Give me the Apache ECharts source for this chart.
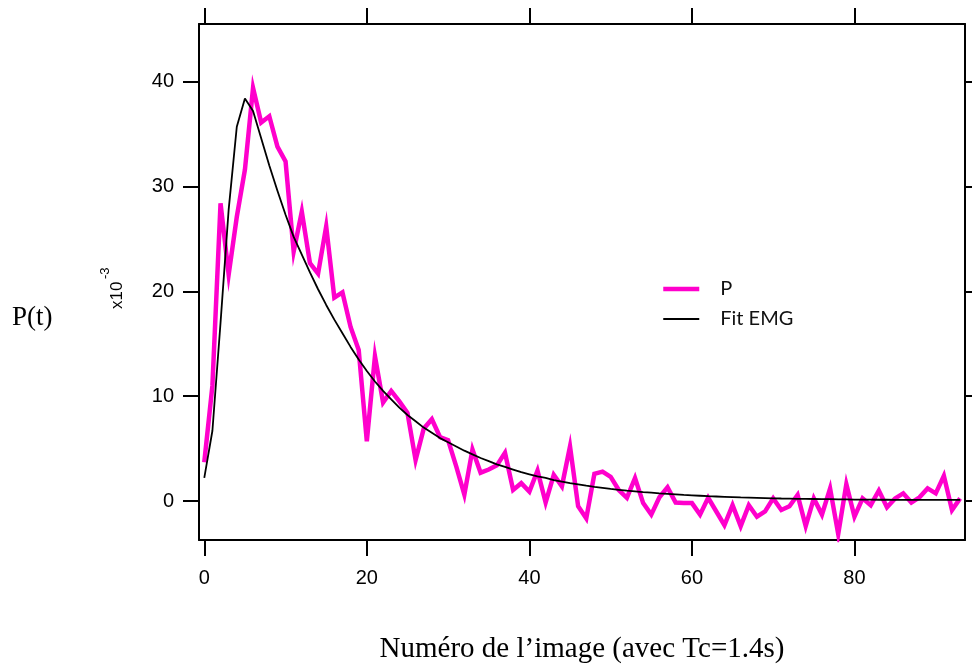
<!DOCTYPE html>
<html>
<head>
<meta charset="utf-8">
<script src="https://cdn.jsdelivr.net/npm/echarts@6/dist/echarts.min.js"></script>
<style>
html,body{margin:0;padding:0;background:#fff;}
#chart{width:972px;height:664px;}
</style>
</head>
<body>
<div id="chart"></div>
<script>
// Measured P(t) per image number (values in x10^-3)
const pValues = [
  3.7, 11, 28.4, 21.6, 27.1, 31.6, 39.4, 36.1, 36.7, 33.8,
  32.4, 23.8, 27.6, 22.7, 21.7, 26.2, 19.4, 19.9, 16.6, 14.4,
  5.7, 13.8, 9.4, 10.5, 9.5, 8.4, 3.9, 6.9, 7.8, 6.1,
  5.8, 3.3, 0.6, 4.9, 2.7, 3.0, 3.4, 4.6, 1.05, 1.7,
  0.9, 2.9, -0.15, 2.5, 1.4, 5.2, -0.5, -1.65, 2.6, 2.8,
  2.3, 1.05, 0.3, 2.2, -0.2, -1.3, 0.35, 1.3, -0.15, -0.2,
  -0.2, -1.3, 0.3, -1.0, -2.3, -0.4, -2.4, -0.4, -1.5, -1.0,
  0.25, -0.86, -0.5, 0.57, -2.4, 0.25, -1.3, 1.2, -3.15, 1.6,
  -1.5, 0.25, -0.4, 1.0, -0.6, 0.25, 0.73, -0.15, 0.35, 1.2,
  0.73, 2.4, -0.86, 0.25
];
// EMG fit (values in x10^-3)
const fitValues = [
  2.2, 6.7, 17.0, 27.8, 35.7, 38.4, 37.2, 34.6, 32.0, 29.6,
  27.3, 25.2, 23.5, 21.8, 20.2, 18.7, 17.3, 16.0, 14.7, 13.5,
  12.4, 11.4, 10.5, 9.7, 8.9, 8.2, 7.6, 7.0, 6.5, 6.0,
  5.6, 5.2, 4.8, 4.45, 4.1, 3.8, 3.5, 3.25, 3.0, 2.75,
  2.55, 2.35, 2.2, 2.0, 1.85, 1.7, 1.58, 1.46, 1.35, 1.25,
  1.15, 1.07, 0.99, 0.92, 0.85, 0.79, 0.73, 0.68, 0.63, 0.58,
  0.54, 0.5, 0.46, 0.43, 0.4, 0.37, 0.34, 0.32, 0.3, 0.28,
  0.26, 0.24, 0.23, 0.21, 0.2, 0.19, 0.18, 0.17, 0.16, 0.15,
  0.14, 0.13, 0.13, 0.12, 0.12, 0.11, 0.11, 0.1, 0.1, 0.1,
  0.1, 0.1, 0.1, 0.1
];
const xTicks = [0, 20, 40, 60, 80];
const yTicks = [0, 10, 20, 30, 40];
const seriesNames = ['P', 'Fit EMG'];
const xTitle = 'Numéro de l\u2019image (avec Tc=1.4s)';
const yTitle = 'P(t)';

const pData = pValues.map((v, i) => [i, v]);
const fitData = fitValues.map((v, i) => [i, v]);

const chart = echarts.init(document.getElementById('chart'), null, {renderer: 'canvas'});

const axisLineStyle = {color: '#000', width: 2};
const tickCommon = {show: true, inside: false, length: 16, lineStyle: {color: '#000', width: 2}};
const pColor = '#ff00cc';

const option = {
  animation: false,
  backgroundColor: '#fff',
  grid: {left: 199, top: 24, width: 766, height: 516, containLabel: false, outerBoundsMode: 'none'},
  xAxis: [
    {
      type: 'value', position: 'bottom', min: -0.65, max: 93.6,
      axisLine: {show: true, onZero: false, lineStyle: axisLineStyle},
      axisTick: Object.assign({customValues: xTicks}, tickCommon),
      axisLabel: {customValues: xTicks, margin: 28, color: '#000', fontSize: 20, fontFamily: 'Liberation Sans'},
      splitLine: {show: false},
      name: xTitle, nameLocation: 'middle', nameGap: 95,
      nameTextStyle: {fontFamily: 'Liberation Serif', fontSize: 29, color: '#000'}
    },
    {
      type: 'value', position: 'top', min: -0.65, max: 93.6,
      axisLine: {show: true, onZero: false, lineStyle: axisLineStyle},
      axisTick: Object.assign({customValues: xTicks}, tickCommon),
      axisLabel: {show: false},
      splitLine: {show: false}
    }
  ],
  yAxis: [
    {
      type: 'value', position: 'left', min: -3.72, max: 45.5,
      axisLine: {show: true, onZero: false, lineStyle: axisLineStyle},
      axisTick: Object.assign({customValues: yTicks}, tickCommon),
      axisLabel: {customValues: yTicks, margin: 25, color: '#000', fontSize: 20, fontFamily: 'Liberation Sans'},
      splitLine: {show: false}
    },
    {
      type: 'value', position: 'right', min: -3.72, max: 45.5,
      axisLine: {show: true, onZero: false, lineStyle: axisLineStyle},
      axisTick: Object.assign({customValues: yTicks}, tickCommon),
      axisLabel: {show: false},
      splitLine: {show: false}
    }
  ],
  legend: {
    orient: 'vertical', left: 661, top: 278, padding: 0,
    itemWidth: 36, itemHeight: 10, itemGap: 8,
    itemStyle: {opacity: 0},
    textStyle: {fontFamily: 'Lato', fontSize: 20, color: '#111', lineHeight: 22, padding: [0, 0, 0, 16]},
    data: [
      {name: seriesNames[0], lineStyle: {width: 4.5, color: pColor}},
      {name: seriesNames[1], lineStyle: {width: 1.8, color: '#000'}}
    ]
  },
  series: [
    {
      name: seriesNames[0], type: 'line', data: pData,
      xAxisIndex: 0, yAxisIndex: 0,
      symbol: 'none', showSymbol: false,
      lineStyle: {color: pColor, width: 4.5, join: 'miter', cap: 'butt'},
      itemStyle: {color: pColor},
      z: 2
    },
    {
      name: seriesNames[1], type: 'line', data: fitData,
      xAxisIndex: 0, yAxisIndex: 0,
      symbol: 'none', showSymbol: false, smooth: false,
      lineStyle: {color: '#000', width: 1.8},
      itemStyle: {color: '#000'},
      z: 3
    }
  ],
  graphic: [
    {
      type: 'text', left: 12, top: 304,
      style: {text: yTitle, font: '27px "Liberation Serif"', fill: '#000'}
    },
    {
      type: 'text', x: 126, y: 309, rotation: Math.PI / 2,
      style: {text: 'x10', font: '17px "Liberation Sans"', fill: '#000', align: 'left', verticalAlign: 'bottom'}
    },
    {
      type: 'text', x: 112, y: 279, rotation: Math.PI / 2,
      style: {text: '-3', font: '13px "Liberation Sans"', fill: '#000', align: 'left', verticalAlign: 'bottom'}
    }
  ]
};
chart.setOption(option);
</script>
</body>
</html>
